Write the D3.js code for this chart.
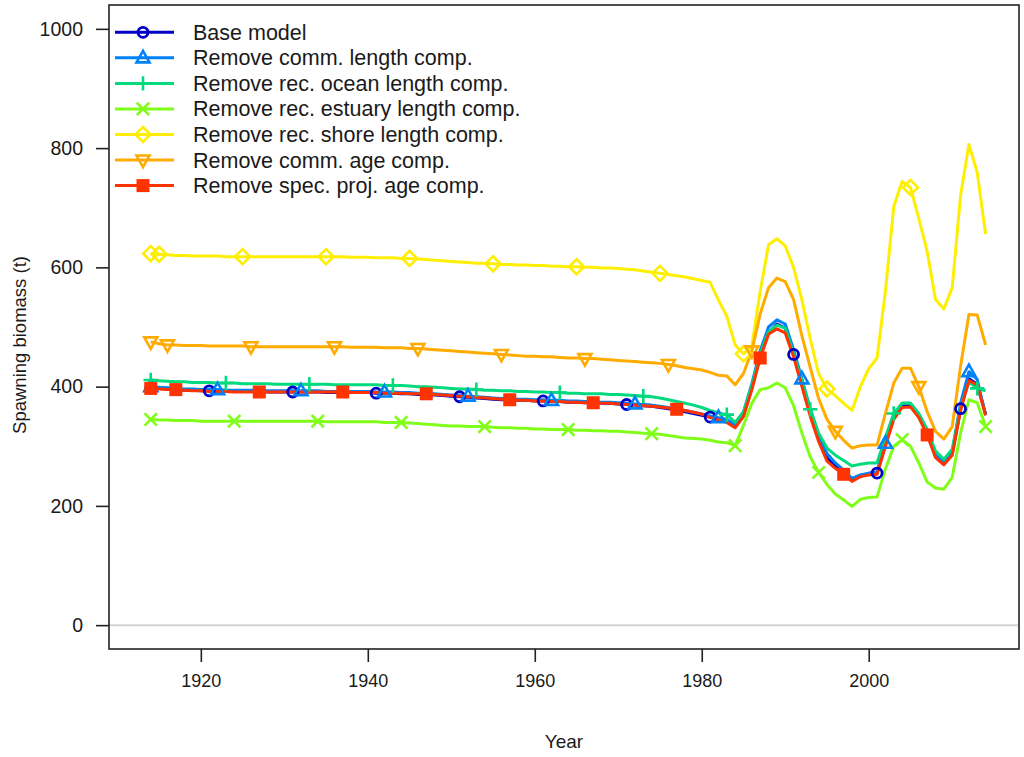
<!DOCTYPE html>
<html><head><meta charset="utf-8">
<script src="https://cdn.jsdelivr.net/npm/d3@7"></script>
<style>
body{margin:0;background:#fff}
text{font-family:"Liberation Sans",Arial,sans-serif;fill:#1a1a1a}
</style></head>
<body><svg id="c" width="1024" height="757"></svg>
<script>
const years = d3.range(1914, 2015);
const seriesNames = ["Base model","Remove comm. length comp.","Remove rec. ocean length comp.","Remove rec. estuary length comp.","Remove rec. shore length comp.","Remove comm. age comp.","Remove spec. proj. age comp."];
const seriesColors = ["#0000C6","#0081F8","#02DA7D","#80FE1A","#FDEE02","#FFAB00","#FF3300"];
const markerTypes = ["circle","triUp","plus","cross","diamond","triDown","square"];
const markerFirstYear = [1921,1922,1923,1924,1915,1916,1917];
const yTicks = [0,200,400,600,800,1000];
const xTicks = [1920,1940,1960,1980,2000];

// values by year, 1914-1919 then one row per decade, then 2010-2014
const baseModel = [
  398,397,396,395,394,394,
  393,393,393,392,392,392,392,392,391,391,
  391,391,391,391,391,390,390,390,390,390,
  390,389,389,389,388,388,387,387,386,385,
  384,383,382,381,380,379,378,378,377,377,
  376,376,375,375,374,374,373,373,372,372,
  371,370,369,368,367,365,363,361,358,355,
  352,349,346,343,333,352,398,452,490,505,
  498,454,405,355,312,280,266,256,244,251,
  254,255,303,348,368,369,350,323,283,271,
  287,363,413,404,354];
const commLength = [
  400,399,398,397,396,396,
  395,395,395,394,394,394,394,394,393,393,
  393,393,393,393,393,392,392,392,392,392,
  392,391,391,391,390,390,389,389,388,387,
  386,385,384,383,382,381,380,380,379,379,
  378,378,377,377,376,376,375,375,374,374,
  373,372,371,370,369,367,365,363,360,357,
  354,351,348,345,336,357,405,460,500,512,
  505,462,413,362,318,288,272,260,246,252,
  255,257,305,352,372,372,353,325,285,272,
  290,372,425,412,352];
const recOcean = [
  411,410,409,408,408,407,
  407,407,406,406,406,405,405,405,405,404,
  404,404,404,404,404,404,403,403,403,403,
  403,403,402,402,402,401,400,400,399,398,
  397,396,396,395,394,394,393,393,392,392,
  391,391,390,390,389,389,388,388,388,387,
  387,386,385,384,383,381,378,375,372,369,
  365,360,356,353,340,358,402,455,492,503,
  498,455,410,362,322,297,285,276,267,270,
  272,272,315,355,372,372,355,328,292,278,
  295,365,408,397,393];
const recEstuary = [
  345,344,344,343,343,343,
  342,342,342,342,342,342,342,342,342,342,
  342,342,342,342,342,341,341,341,341,341,
  341,341,340,340,340,339,338,337,336,335,
  334,334,333,333,333,332,331,331,330,330,
  329,329,328,328,328,327,327,326,326,325,
  325,324,323,322,321,320,318,316,314,313,
  312,310,307,306,301,335,372,395,398,406,
  398,368,322,282,256,236,220,210,199,211,
  214,215,262,300,311,300,272,240,230,228,
  248,322,378,373,333];
const recShore = [
  623,622,621,620,620,619,
  619,619,619,618,618,618,618,618,618,618,
  618,618,618,618,618,618,618,618,617,617,
  617,616,616,616,615,615,614,613,612,611,
  610,609,608,607,607,606,605,605,604,604,
  603,603,602,602,601,601,600,600,599,599,
  598,597,596,594,592,590,588,586,584,581,
  578,575,545,518,470,455,468,560,638,648,
  636,600,545,480,422,396,385,372,360,400,
  430,448,560,702,744,734,682,627,546,530,
  566,720,806,759,656];
const commAge = [
  475,472,470,470,469,469,
  469,468,468,468,468,468,467,467,467,467,
  467,467,467,467,467,467,467,467,466,466,
  466,466,465,465,465,464,464,463,462,461,
  460,459,458,457,456,455,454,453,452,451,
  451,450,450,449,448,448,447,447,446,445,
  444,443,442,441,440,439,437,435,432,430,
  428,424,419,418,403,422,460,522,566,582,
  576,546,485,432,380,345,325,310,297,301,
  302,302,355,406,431,431,400,358,325,312,
  333,434,521,520,470];
const specProjAge = [
  397,396,395,395,394,393,
  393,392,392,392,391,391,391,391,391,391,
  391,391,391,391,391,391,391,391,390,390,
  390,390,389,389,389,388,388,388,387,386,
  385,384,383,382,381,380,379,378,377,377,
  376,376,375,375,374,374,373,373,372,372,
  371,370,369,368,367,366,364,362,360,357,
  354,348,344,340,331,350,395,448,488,497,
  490,450,400,350,308,275,263,253,241,249,
  252,253,300,345,365,366,348,319,281,269,
  285,360,410,403,352];

const allValues = [baseModel, commLength, recOcean, recEstuary, recShore, commAge, specProjAge];

const svg = d3.select("#c");
const M = {l:109, r:1019, t:5, b:649};
const x = d3.scaleLinear().domain([1909, 2018]).range([M.l, M.r]);
const y = d3.scaleLinear().domain([-40, 1040]).range([M.b, M.t]);

// zero reference line
svg.append("line").attr("x1", M.l).attr("x2", M.r).attr("y1", y(0)).attr("y2", y(0))
  .attr("stroke", "#d4d4d4").attr("stroke-width", 2);

// series lines
const line = d3.line().x((d,i)=>x(years[i])).y(d=>y(d));
allValues.forEach((vals, k) => {
  svg.append("path").datum(vals).attr("d", line)
    .attr("fill","none").attr("stroke", seriesColors[k]).attr("stroke-width", 3)
    .attr("stroke-linejoin","round");
});

function drawMarker(g, type, cx, cy, col) {
  const s = 6.2;
  if (type === "circle") {
    g.append("circle").attr("cx",cx).attr("cy",cy).attr("r",5).attr("fill","none").attr("stroke",col).attr("stroke-width",2.8);
  } else if (type === "triUp") {
    g.append("path").attr("d",`M${cx},${cy-7}L${cx+6.5},${cy+4.5}L${cx-6.5},${cy+4.5}Z`).attr("fill","none").attr("stroke",col).attr("stroke-width",2.6);
  } else if (type === "triDown") {
    g.append("path").attr("d",`M${cx},${cy+7}L${cx+6.5},${cy-4.5}L${cx-6.5},${cy-4.5}Z`).attr("fill","none").attr("stroke",col).attr("stroke-width",2.6);
  } else if (type === "plus") {
    g.append("path").attr("d",`M${cx-s-1},${cy}H${cx+s+1}M${cx},${cy-s-1}V${cy+s+1}`).attr("stroke",col).attr("stroke-width",2.6);
  } else if (type === "cross") {
    g.append("path").attr("d",`M${cx-s},${cy-s}L${cx+s},${cy+s}M${cx-s},${cy+s}L${cx+s},${cy-s}`).attr("stroke",col).attr("stroke-width",2.6);
  } else if (type === "diamond") {
    g.append("path").attr("d",`M${cx},${cy-7.5}L${cx+7.5},${cy}L${cx},${cy+7.5}L${cx-7.5},${cy}Z`).attr("fill","none").attr("stroke",col).attr("stroke-width",2.6);
  } else if (type === "square") {
    g.append("rect").attr("x",cx-6.5).attr("y",cy-6.5).attr("width",13).attr("height",13).attr("fill",col);
  }
}

const mg = svg.append("g");
allValues.forEach((vals, k) => {
  const idxs = [0];
  for (let yr = markerFirstYear[k]; yr <= 2014; yr += 10) idxs.push(years.indexOf(yr));
  idxs.forEach(i => drawMarker(mg, markerTypes[k], x(years[i]), y(vals[i]), seriesColors[k]));
});

// box
svg.append("rect").attr("x",M.l).attr("y",M.t).attr("width",M.r-M.l).attr("height",M.b-M.t)
  .attr("fill","none").attr("stroke","#222").attr("stroke-width",1.6);

// axes
const ya = svg.append("g").attr("transform",`translate(${M.l},0)`)
  .call(d3.axisLeft(y).tickValues(yTicks).tickSize(13).tickPadding(13).tickFormat(d3.format("d")));
ya.select(".domain").remove();
ya.selectAll("line").attr("stroke","#222").attr("stroke-width",1.6);
ya.selectAll("text").attr("font-size",19.5).style("font-family","'Liberation Sans',Arial,sans-serif").attr("fill","#1a1a1a");

const xa = svg.append("g").attr("transform",`translate(0,${M.b})`)
  .call(d3.axisBottom(x).tickValues(xTicks).tickSize(13).tickPadding(12).tickFormat(d3.format("d")));
xa.select(".domain").remove();
xa.selectAll("line").attr("stroke","#222").attr("stroke-width",1.6);
xa.selectAll("text").attr("font-size",18).style("font-family","'Liberation Sans',Arial,sans-serif").attr("fill","#1a1a1a");

svg.append("text").attr("x",564).attr("y",748).attr("text-anchor","middle").attr("font-size",19).text("Year");
svg.append("text").attr("transform","translate(26,345) rotate(-90)").attr("text-anchor","middle").attr("font-size",18.5).text("Spawning biomass (t)");

// legend
const lg = svg.append("g");
seriesNames.forEach((nm, k) => {
  const ly = 32.3 + k*25.55;
  lg.append("line").attr("x1",115).attr("x2",174).attr("y1",ly).attr("y2",ly).attr("stroke",seriesColors[k]).attr("stroke-width",3);
  drawMarker(lg, markerTypes[k], 143, ly, seriesColors[k]);
  lg.append("text").attr("x",193).attr("y",ly+7.5).attr("font-size",21.5).text(nm);
});
</script></body></html>
